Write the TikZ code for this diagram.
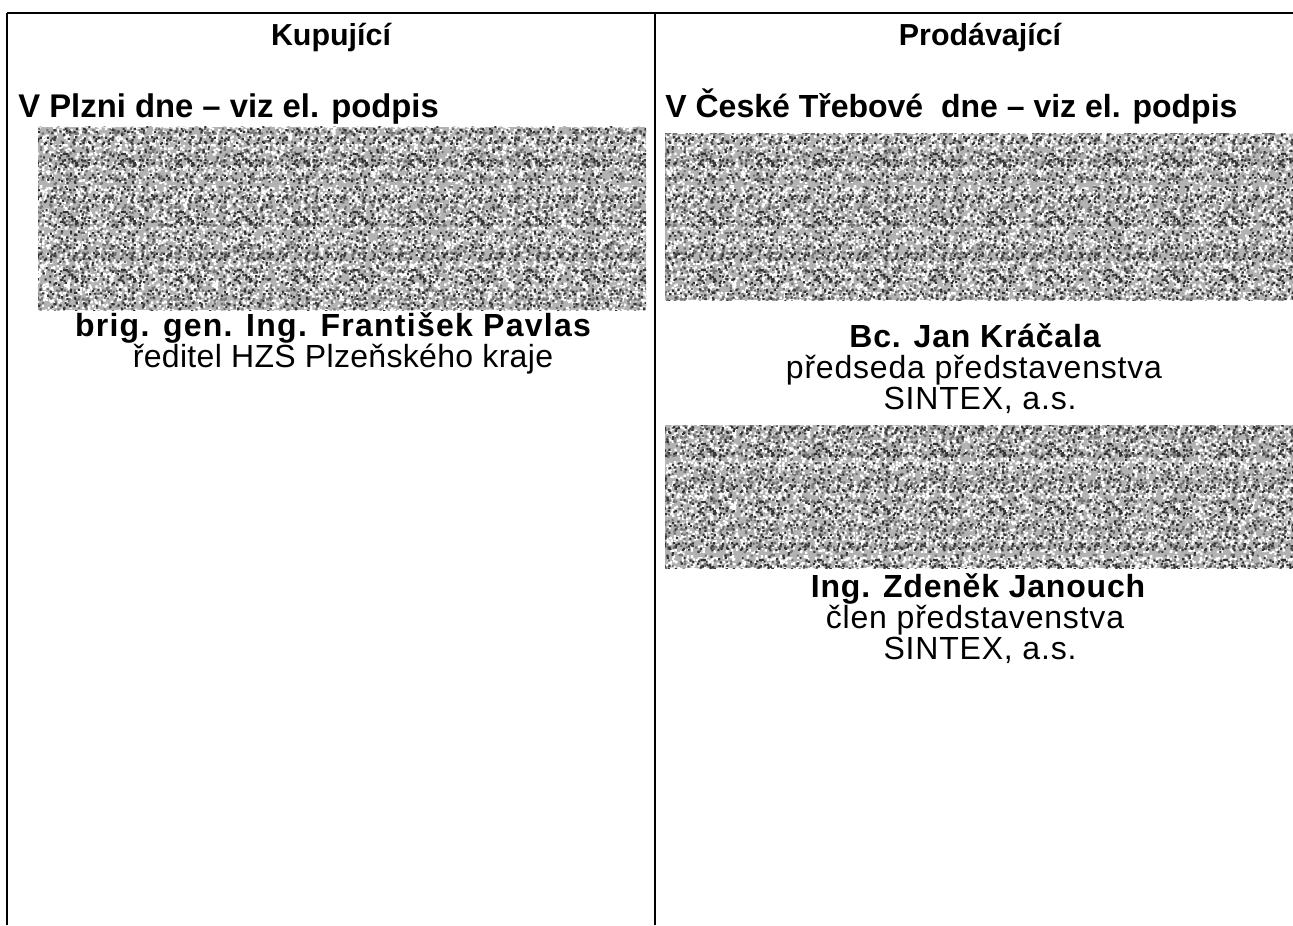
\documentclass[tikz,border=0pt]{standalone}
\usepackage{fontspec}
\usetikzlibrary{patterns}
\setmainfont{Liberation Sans}
\newfontfamily\widefont[LetterSpace=2.5]{Liberation Sans}
\newfontfamily\widerfont[LetterSpace=4]{Liberation Sans}
\newfontfamily\slimfont[LetterSpace=1]{Liberation Sans}

\newcommand\newgrain[4]{%
    \pgfdeclarepatternformonly{#1}{\pgfpointorigin}{\pgfpoint{#2pt}{#2pt}}{\pgfpoint{#2pt}{#2pt}}{%
        \foreach \i in {1,...,#3} {%
            \pgfmathsetmacro\gx{rnd*(#2-#4)}\pgfmathsetmacro\gy{rnd*(#2-#4)}%
            \pgfpathrectangle{\pgfpoint{\gx pt}{\gy pt}}{\pgfpoint{#4pt}{#4pt}}\pgfusepath{fill}%
        }}}
\newgrain{lightgrain}{37}{380}{1.2}
\newgrain{midgrain}{23}{70}{1.1}
\newgrain{darkgrain}{29}{110}{1.1}

\tikzset{
    every node/.style={inner sep=0pt, anchor=base},
    hdr/.style={font=\bfseries\fontsize{15.2}{16}\selectfont},
    place/.style={font=\bfseries\fontsize{16.4}{17}\selectfont, anchor=base west},
    body/.style={font=\widefont\fontsize{16}{16.5}\selectfont},
    bodyname/.style={font=\widefont\bfseries\fontsize{16}{16.5}\selectfont},
    rule/.style={line width=1pt}
}

\begin{document}
\begin{tikzpicture}[x=0.5pt, y=-0.5pt]
    \pgfmathsetseed{7}
    \def\noise(#1,#2)(#3,#4){
        \fill[black!30] (#1,#2) rectangle (#3,#4);
        \fill[pattern=lightgrain, pattern color=white] (#1,#2) rectangle (#3,#4);
        \fill[pattern=midgrain, pattern color=black!55] (#1,#2) rectangle (#3,#4);
        \fill[pattern=darkgrain, pattern color=black!80] (#1,#2) rectangle (#3,#4);
    }
    \useasboundingbox (0,0) rectangle (1293,925);
    \coordinate (tl) at (7,13);
    \coordinate (tr) at (1293,13);
    \coordinate (ml) at (655,13);
    \draw[rule] (tl) -- (tr);
    \draw[rule] (tl) -- (tl |- 0,925);
    \draw[rule] (ml) -- (ml |- 0,925);

    \node[hdr] (buyer) at (331,46) {Kupující};
    \node[hdr] (seller) at (980,46) {Prodávající};
    \node[place] (placeL) at (18,118) {V Plzni dne – viz el. podpis};
    \node[place, font=\bfseries\fontsize{16}{17}\selectfont] (placeR) at (665,118) {V České Třebové\ \ dne – viz el. podpis};

    \noise(38,127)(646,310)
    \node[font=\widerfont\bfseries\fontsize{16}{16.5}\selectfont] (nameL) at (333,336) {brig. gen. Ing. František Pavlas};
    \node[font=\slimfont\fontsize{16}{16.5}\selectfont] (roleL) at (343,367) {ředitel HZS Plzeňského kraje};

    \noise(665,134)(1293,300)
    \node[bodyname] (nameR1) at (975,347) {Bc. Jan Kráčala};
    \node[body] (roleR1) at (974,378) {předseda představenstva};
    \node[body] (firmR1) at (980,409) {SINTEX, a.s.};

    \noise(665,425)(1293,568)
    \node[bodyname] (nameR2) at (978,597) {Ing. Zdeněk Janouch};
    \node[body] (roleR2) at (975,628) {člen představenstva};
    \node[body] (firmR2) at (980,659) {SINTEX, a.s.};
\end{tikzpicture}
\end{document}
